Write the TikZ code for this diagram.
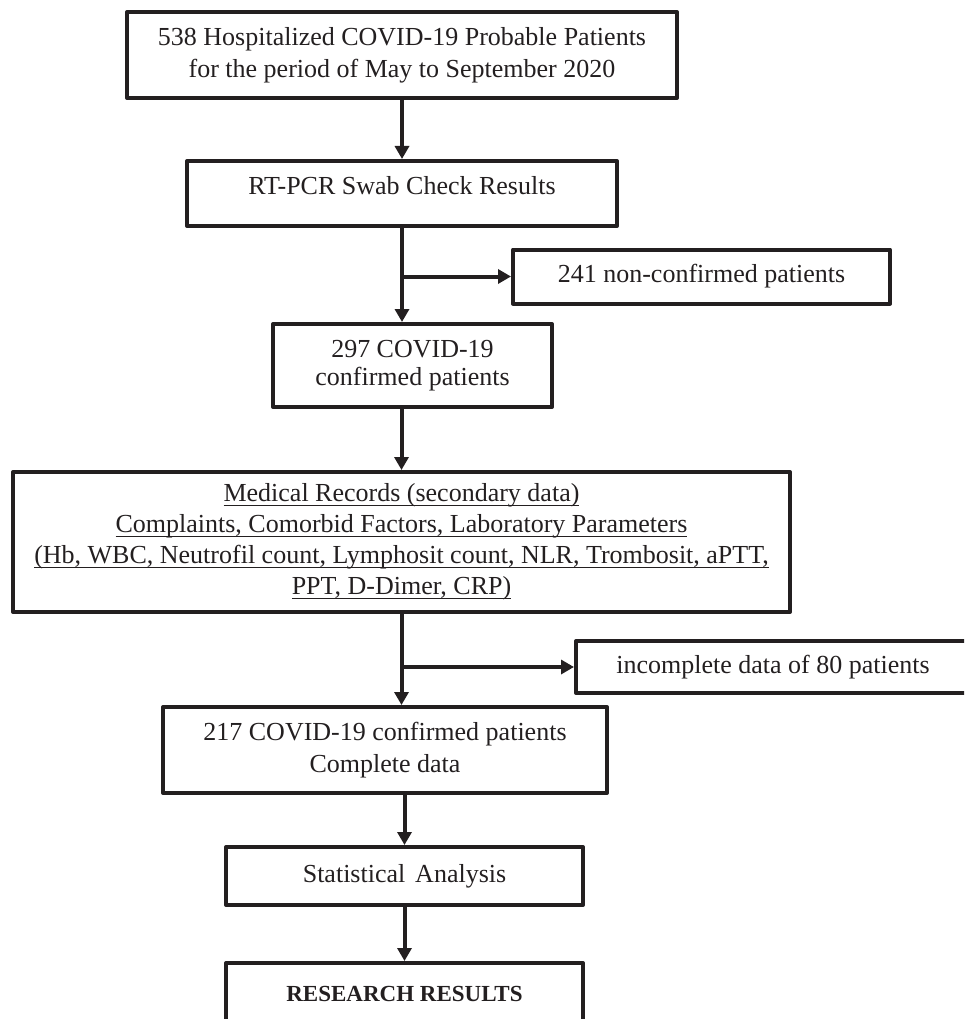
\documentclass[tikz,border=0pt]{standalone}
\usepackage{fontspec}
\setmainfont{Liberation Serif}
\usetikzlibrary{arrows.meta}
\definecolor{ink}{HTML}{231F20}
\newcommand\undl[1]{\setbox0\hbox{#1}\rlap{\raisebox{-4.5pt}{\color{ink}\rule{\wd0}{1.5pt}}}\box0}
\begin{document}
\begin{tikzpicture}[x=1pt,y=-1pt,
  box/.style={draw=ink, line width=4pt, line join=round, inner sep=0pt, text=ink,
              font=\fontsize{26}{32}\selectfont, align=center},
  arr/.style={draw=ink, line width=4pt, -{Triangle[length=13pt,width=14pt]}}]
\useasboundingbox (0,0) rectangle (964,1019);
\clip (0,0) rectangle (964,1019);
\node[box, minimum width=550pt, minimum height=86pt] (b1) at (402,55)
  {538 Hospitalized COVID-19 Probable Patients\\for the period of May to September 2020};
\node[box, minimum width=430pt, minimum height=65pt, text height=18pt, text depth=17pt] (b2) at (402,193.5)
  {RT-PCR Swab Check Results};
\node[box, minimum width=377pt, minimum height=54pt] (r1) at (701.5,276.5)
  {241 non-confirmed patients};
\node[box, minimum width=279pt, minimum height=83pt, font=\fontsize{26}{28}\selectfont] (b3) at (412.5,365.5)
  {297 COVID-19\\confirmed patients};
\node[box, minimum width=777pt, minimum height=140pt, font=\fontsize{26}{31}\selectfont] (b4) at (401.5,542)
  {\undl{Medical Records (secondary data)}\\
   \undl{Complaints, Comorbid Factors, Laboratory Parameters}\\
   \undl{(Hb, WBC, Neutrofil count, Lymphosit count, NLR, Trombosit, aPTT,}\\
   \undl{PPT, D-Dimer, CRP)}};
\node[box, minimum width=394pt, minimum height=52pt] (r2) at (773,667)
  {incomplete data of 80 patients};
\node[box, minimum width=444pt, minimum height=86pt] (b5) at (385,750)
  {217 COVID-19 confirmed patients\\Complete data};
\node[box, minimum width=357pt, minimum height=58pt] (b6) at (404.5,876)
  {Statistical\hspace{0.38em}Analysis};
\node[box, minimum width=357pt, minimum height=61pt, font=\fontsize{23}{28}\selectfont\bfseries] (b7) at (404.5,993.5)
  {RESEARCH RESULTS};
\draw[arr] (b1.south) -- (b2.north);
\draw[arr] (b2.south) -- (b2.south |- b3.north);
\draw[arr] (b2.south |- r1.west) -- (r1.west);
\draw[arr] (b4.north |- b3.south) -- (b4.north);
\draw[arr] (b4.south) -- (b4.south |- b5.north);
\draw[arr] (b4.south |- r2.west) -- (r2.west);
\draw[arr] (b6.north |- b5.south) -- (b6.north);
\draw[arr] (b6.south) -- (b7.north);
\end{tikzpicture}
\end{document}
